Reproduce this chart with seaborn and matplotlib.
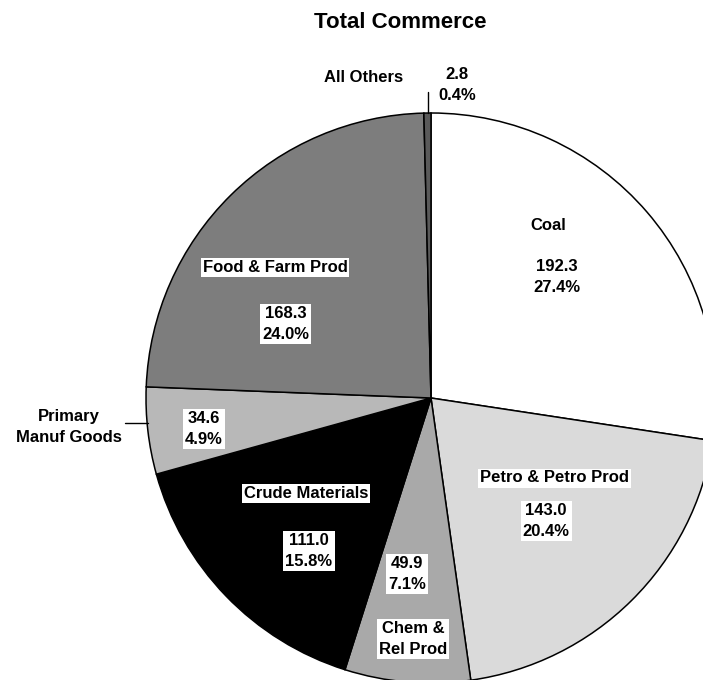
import numpy as np
import matplotlib
matplotlib.use("Agg")
import matplotlib.pyplot as plt
import seaborn as sns

# values in the pie, clockwise from 12 o'clock
categories = ["Coal", "Petro & Petro Prod", "Chem &\nRel Prod", "Crude Materials",
              "Primary\nManuf Goods", "Food & Farm Prod", "All Others"]
amounts = [192.3, 143.0, 49.9, 111.0, 34.6, 168.3, 2.8]
shares = ["27.4%", "20.4%", "7.1%", "15.8%", "4.9%", "24.0%", "0.4%"]

greys = ["#ffffff", "#dadada", "#a9a9a9", "#000000", "#b8b8b8", "#7d7d7d", "#5a5a5a"]

sns.set_theme(style="white")
plt.rcParams["font.family"] = ["Liberation Sans", "DejaVu Sans"]

W, H = 703, 680
cx, cy, R = 431, 398, 285

fig = plt.figure(figsize=(W / 100, H / 100), dpi=100)
ax = fig.add_axes([0, 0, 1, 1])


def px(x, y):
    # pixel position in the picture -> data coords of the pie axes
    return (x - cx) / R, (cy - y) / R


ax.pie(amounts, colors=greys, startangle=90, counterclock=False, radius=1,
       center=(0, 0), frame=False,
       wedgeprops=dict(edgecolor="black", linewidth=1.1))
ax.set_xlim(-cx / R, (W - cx) / R)
ax.set_ylim((cy - H) / R, cy / R)
ax.set_aspect("auto")
ax.axis("off")

box = dict(facecolor="white", edgecolor="none", pad=1.5)
kw = dict(ha="center", va="center", fontsize=12, fontweight="bold",
          color="black", linespacing=1.5)

# name label positions (pixels) and number label positions (pixels)
name_pos = [(548, 225), (554, 478), (413, 639), (306, 493), (69, 427), (275, 267), (364, 77)]
num_pos = [(557, 277), (546, 521), (407, 574), (309, 551), (204, 429), (286, 324), (457, 85)]
name_box = [False, True, True, True, False, True, False]
num_box = [False, True, True, True, True, True, False]

for name, amt, pct, npos, vpos, b1, b2 in zip(categories, amounts, shares, name_pos,
                                              num_pos, name_box, num_box):
    ax.text(*px(*npos), name, bbox=box if b1 else None, **kw)
    ax.text(*px(*vpos), f"{amt:.1f}\n{pct}", bbox=box if b2 else None, **kw)

# leader lines for the two small outside labels
ax.plot(*zip(px(125, 423), px(148, 423)), color="black", lw=1)
ax.plot(*zip(px(428, 92), px(428, 113)), color="black", lw=1)

ax.text(*px(400, 22), "Total Commerce", ha="center", va="center",
        fontsize=16, fontweight="bold", color="black")

fig.savefig("out.png", dpi=100)
